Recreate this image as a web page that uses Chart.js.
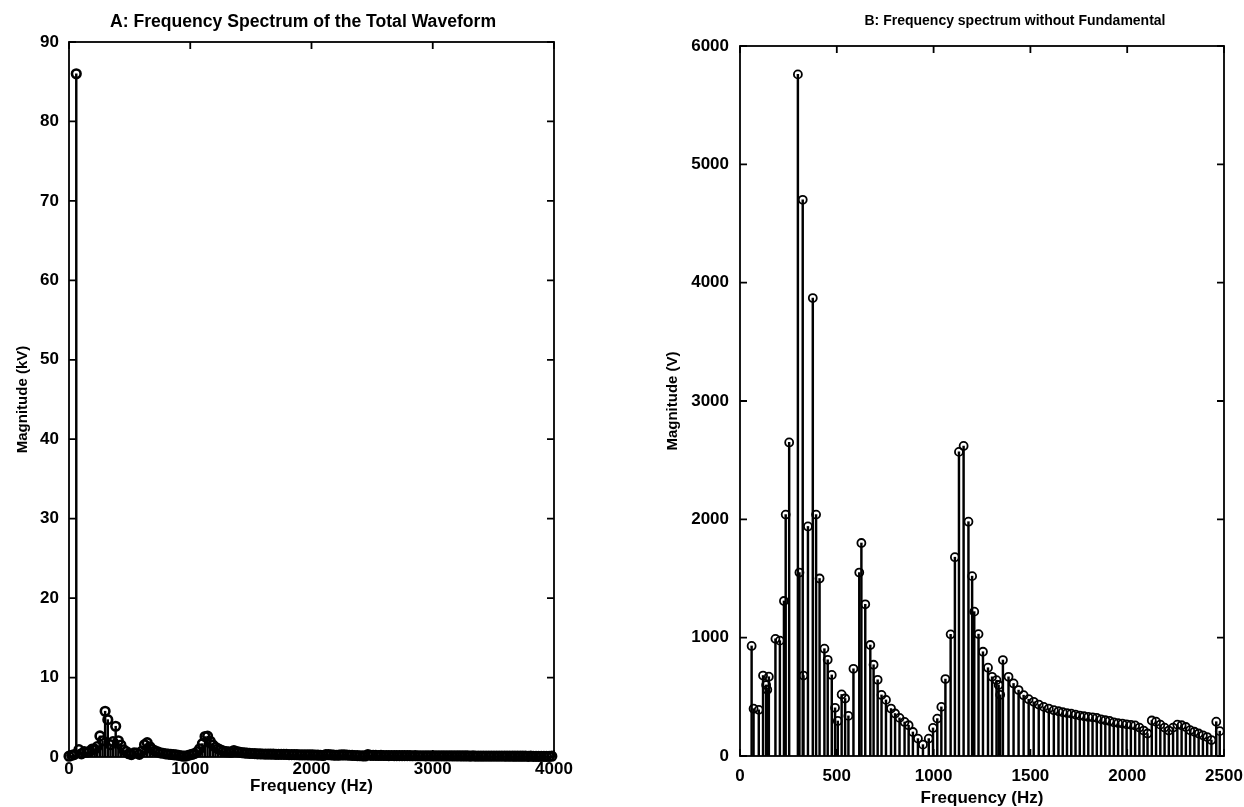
<!DOCTYPE html>
<html>
<head>
<meta charset="utf-8">
<title>Frequency spectrum</title>
<script src="https://cdn.jsdelivr.net/npm/chart.js@4.4.1/dist/chart.umd.min.js"></script>
<style>
  html, body { margin: 0; padding: 0; background: #fff; overflow: hidden; }
  #wrapA { position: absolute; left: 0; top: 0; width: 620px; height: 807px; }
  #wrapB { position: absolute; left: 620px; top: 0; width: 624px; height: 807px; }
</style>
</head>
<body>
<div id="wrapA"><canvas id="chartA" width="620" height="807"></canvas></div>
<div id="wrapB"><canvas id="chartB" width="624" height="807"></canvas></div>
<script>
// Panel A: spectrum of the total waveform (kV)
var leftFreq = [
    0, 22, 43, 60, 82, 103, 125, 147, 168, 190,
    212, 233, 255, 277, 298, 320, 342, 363, 385, 407,
    428, 450, 472, 493, 515, 537, 558, 580, 602, 623,
    645, 667, 688, 710, 732, 753, 775, 797, 818, 840,
    862, 883, 905, 927, 948, 970, 992, 1013, 1035, 1057,
    1078, 1100, 1122, 1143, 1165, 1187, 1208, 1230, 1252, 1273,
    1295, 1317, 1338, 1360, 1382, 1403, 1425, 1447, 1468, 1490,
    1512, 1533, 1555, 1577, 1598, 1620, 1642, 1663, 1685, 1707,
    1728, 1750, 1772, 1793, 1815, 1837, 1858, 1880, 1902, 1923,
    1945, 1967, 1988, 2010, 2032, 2053, 2075, 2097, 2118, 2140,
    2162, 2183, 2205, 2227, 2248, 2270, 2292, 2313, 2335, 2357,
    2378, 2400, 2422, 2443, 2465, 2487,
    2508, 2530, 2552, 2573, 2595, 2617, 2638, 2660, 2682, 2703,
    2725, 2747, 2768, 2790, 2812, 2833, 2855, 2877, 2898, 2920,
    2942, 2963, 2985, 3007, 3028, 3050, 3072, 3093, 3115, 3137,
    3158, 3180, 3202, 3223, 3245, 3267, 3288, 3310, 3332, 3353,
    3375, 3397, 3418, 3440, 3462, 3483, 3505, 3527, 3548, 3570,
    3592, 3613, 3635, 3657, 3678, 3700, 3722, 3743, 3765, 3787,
    3808, 3830, 3852, 3873, 3895, 3917, 3938, 3960, 3982
];
var leftKV = [
    0.1, 0.2, 0.3, 86, 0.93, 0.4, 0.68, 0.6, 0.67, 0.99,
    0.98, 1.31, 2.65, 2.04, 5.76, 4.7, 1.55, 1.94, 3.87, 2.04,
    1.5, 0.91, 0.69, 0.41, 0.3, 0.52, 0.49, 0.34, 0.74, 1.55,
    1.8, 1.28, 0.94, 0.77, 0.64, 0.52, 0.47, 0.4, 0.36, 0.32,
    0.29, 0.26, 0.2, 0.15, 0.1, 0.15, 0.24, 0.32, 0.42, 0.65,
    1.03, 1.68, 2.57, 2.62, 1.98, 1.52, 1.22, 1.03, 0.88, 0.75,
    0.67, 0.64, 0.6, 0.81, 0.67, 0.61, 0.56, 0.51, 0.48, 0.46,
    0.44, 0.42, 0.4, 0.39, 0.38, 0.37, 0.36, 0.36, 0.35, 0.34,
    0.34, 0.33, 0.33, 0.32, 0.31, 0.3, 0.3, 0.29, 0.28, 0.28,
    0.27, 0.27, 0.26, 0.26, 0.25, 0.24, 0.22, 0.19, 0.3, 0.29,
    0.27, 0.24, 0.22, 0.24, 0.26, 0.26, 0.25, 0.22, 0.21, 0.19,
    0.18, 0.16, 0.14, 0.13, 0.29, 0.21,
    0.2, 0.2, 0.19, 0.2, 0.19, 0.19, 0.18, 0.19, 0.18, 0.18,
    0.17, 0.18, 0.17, 0.17, 0.17, 0.16, 0.17, 0.16, 0.16, 0.16,
    0.15, 0.16, 0.15, 0.15, 0.15, 0.14, 0.15, 0.14, 0.14, 0.14,
    0.14, 0.13, 0.14, 0.13, 0.13, 0.13, 0.13, 0.12, 0.13, 0.12,
    0.12, 0.12, 0.12, 0.12, 0.11, 0.12, 0.11, 0.11, 0.11, 0.11,
    0.11, 0.1, 0.11, 0.1, 0.1, 0.1, 0.1, 0.1, 0.1, 0.09,
    0.1, 0.09, 0.09, 0.09, 0.09, 0.09, 0.09, 0.09, 0.1
];

// Panel B: spectrum without the fundamental (V)
var rightFreq = [
    60, 70, 97, 119, 135, 141, 149, 183, 206, 227,
    236, 254, 299, 307, 324, 328, 351, 376, 393, 411,
    436, 453, 474, 491, 505, 525, 543, 560, 586, 616,
    627, 647, 673, 690, 711, 731, 754, 780, 801, 824,
    850, 871, 893, 919, 945, 975, 997, 1019, 1040, 1061,
    1088, 1110, 1131, 1155, 1180, 1199, 1210, 1232, 1255, 1281,
    1302, 1325, 1336, 1344, 1358, 1387, 1413, 1439, 1465, 1491,
    1517, 1543, 1569, 1595, 1621, 1645, 1667, 1689, 1711, 1733,
    1755, 1777, 1799, 1821, 1843, 1865, 1887, 1909, 1931, 1953,
    1975, 1997, 2019, 2041, 2063, 2085, 2105, 2127, 2149, 2171,
    2193, 2215, 2237, 2259, 2281, 2303, 2325, 2347, 2369, 2391,
    2413, 2435, 2460, 2478
];
var rightV = [
    930, 400, 390, 680, 600, 560, 670, 990, 975, 1310,
    2040, 2650, 5760, 1550, 4700, 680, 1940, 3870, 2040, 1500,
    907, 813, 685, 407, 296, 520, 486, 339, 737, 1550,
    1800, 1282, 938, 771, 644, 516, 474, 401, 359, 322,
    288, 260, 203, 147, 96, 147, 237, 316, 415, 650,
    1028, 1680, 2570, 2620, 1980, 1520, 1220, 1030, 881, 746,
    669, 641, 600, 517, 811, 669, 613, 557, 514, 480,
    458, 435, 415, 401, 387, 378, 370, 363, 358, 350,
    342, 336, 330, 327, 322, 310, 302, 296, 285, 278,
    274, 268, 263, 258, 240, 215, 190, 300, 290, 265,
    240, 215, 240, 265, 260, 245, 218, 205, 190, 175,
    160, 135, 290, 210
];

var font = '"Liberation Sans", Arial, sans-serif';
Chart.defaults.font.family = font;
Chart.defaults.color = '#000';

// box round the axes with MATLAB style inward ticks
var boxTicks = {
    id: 'boxTicks',
    afterDatasetsDraw: function(chart) {
        var ctx = chart.ctx, a = chart.chartArea;
        var x = chart.scales.x, y = chart.scales.y;
        var len = 7;
        ctx.save();
        ctx.strokeStyle = '#000';
        ctx.lineWidth = 1.8;
        ctx.strokeRect(a.left, a.top, a.right - a.left, a.bottom - a.top);
        ctx.beginPath();
        x.ticks.forEach(function(t) {
            var px = x.getPixelForValue(t.value);
            ctx.moveTo(px, a.bottom); ctx.lineTo(px, a.bottom - len);
            ctx.moveTo(px, a.top); ctx.lineTo(px, a.top + len);
        });
        y.ticks.forEach(function(t) {
            var py = y.getPixelForValue(t.value);
            ctx.moveTo(a.left, py); ctx.lineTo(a.left + len, py);
            ctx.moveTo(a.right, py); ctx.lineTo(a.right - len, py);
        });
        ctx.stroke();
        ctx.restore();
    }
};

// panel title, placed like the MATLAB one
var panelTitle = {
    id: 'panelTitle',
    afterDraw: function(chart, args, opts) {
        var ctx = chart.ctx;
        ctx.save();
        ctx.font = opts.font;
        ctx.fillStyle = '#000';
        ctx.textAlign = 'center';
        ctx.textBaseline = 'middle';
        ctx.fillText(opts.text, opts.x, opts.y);
        ctx.restore();
    }
};

function pairs(xs, ys) {
    return xs.map(function(v, i) { return { x: v, y: ys[i] }; });
}

function plain(v) { return String(v); }

function makeStemChart(id, cfg) {
    var pts = pairs(cfg.freq, cfg.values);
    return new Chart(document.getElementById(id), {
        type: 'scatter',
        data: {
            datasets: [
                {
                    type: 'scatter',
                    data: pts,
                    showLine: false,
                    pointStyle: 'circle',
                    pointRadius: cfg.markR,
                    pointHoverRadius: cfg.markR,
                    pointBorderWidth: cfg.markW,
                    pointBackgroundColor: 'rgba(0,0,0,0)',
                    pointBorderColor: '#000',
                    clip: false,
                    order: 0
                },
                {
                    type: 'bar',
                    data: pts,
                    backgroundColor: '#000',
                    borderWidth: 0,
                    barThickness: 1.8,
                    grouped: false,
                    order: 1
                }
            ]
        },
        options: {
            responsive: false,
            animation: false,
            layout: { padding: cfg.padding },
            plugins: {
                legend: { display: false },
                tooltip: { enabled: false },
                panelTitle: cfg.title
            },
            scales: {
                x: {
                    type: 'linear',
                    min: 0,
                    max: cfg.xMax,
                    offset: false,
                    grid: { display: false, drawTicks: false },
                    border: { display: false },
                    ticks: { stepSize: cfg.xStep, padding: cfg.xTickPad, maxRotation: 0, callback: plain, font: { size: 17, weight: 'bold' } },
                    title: { display: true, text: 'Frequency (Hz)', font: { size: 17, weight: 'bold' }, padding: { top: 0, bottom: cfg.xTitlePad } },
                    afterFit: function(s) {
                        s.height = cfg.xHeight;
                        s.paddingLeft = 0;
                        s.paddingRight = 0;
                    }
                },
                y: {
                    type: 'linear',
                    min: 0,
                    max: cfg.yMax,
                    grid: { display: false, drawTicks: false },
                    border: { display: false },
                    ticks: { stepSize: cfg.yStep, padding: cfg.yTickPad, callback: plain, font: { size: 17, weight: 'bold' } },
                    title: { display: true, text: cfg.yTitle, font: { size: 15, weight: 'bold' }, padding: { top: cfg.yTitlePad, bottom: 0 } },
                    afterFit: function(s) {
                        s.width = cfg.yWidth;
                        s.paddingTop = 0;
                        s.paddingBottom = 0;
                    }
                }
            }
        },
        plugins: [boxTicks, panelTitle]
    });
}

makeStemChart('chartA', {
    freq: leftFreq,
    values: leftKV,
    xMax: 4000, xStep: 1000,
    yMax: 90, yStep: 10,
    yTitle: 'Magnitude (kV)',
    padding: { left: 0, top: 42, right: 66, bottom: 0 },
    yWidth: 69, xHeight: 50,
    xTickPad: 2, yTickPad: 10,
    xTitlePad: 10, yTitlePad: 14,
    markR: 4.3, markW: 2.6,
    title: { text: 'A: Frequency Spectrum of the Total Waveform', x: 303, y: 22, font: 'bold 17.6px ' + font }
});

makeStemChart('chartB', {
    freq: rightFreq,
    values: rightV,
    xMax: 2500, xStep: 500,
    yMax: 6000, yStep: 1000,
    yTitle: 'Magnitude (V)',
    padding: { left: 0, top: 46, right: 20, bottom: 0 },
    yWidth: 120, xHeight: 51,
    xTickPad: 10, yTickPad: 11,
    xTitlePad: -2, yTitlePad: 44,
    markR: 4, markW: 1.8,
    title: { text: 'B: Frequency spectrum without Fundamental', x: 395, y: 21, font: 'bold 14px ' + font }
});
</script>
</body>
</html>
